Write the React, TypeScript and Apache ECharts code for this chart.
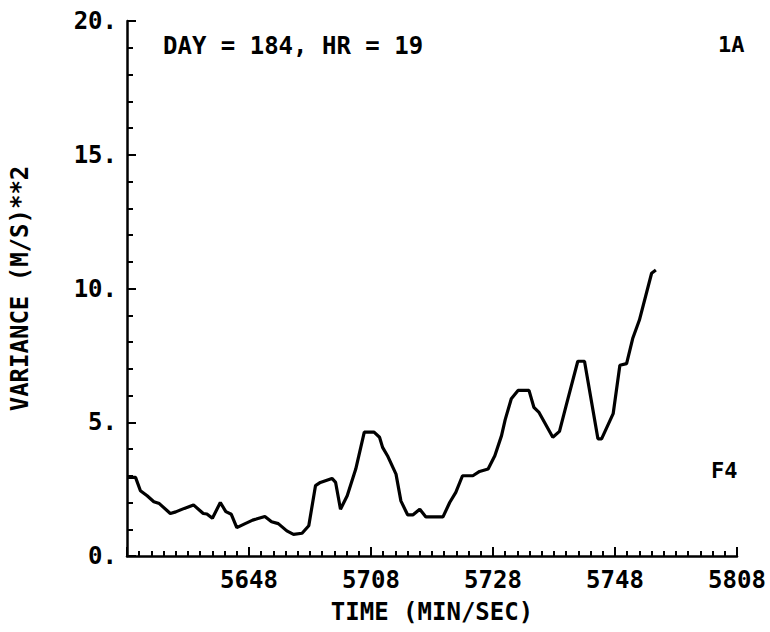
import React, { useEffect, useRef } from "react";
import * as echarts from "echarts";

// time in seconds after 56:28 (min/sec), variance in (m/s)^2
const times = [
  0, 1.4, 2.2, 3.3, 4.4, 5.3, 7.1, 8.0, 9.4, 10.9, 12.5, 13.1, 14.0, 15.3, 16.2, 17.1, 18.0, 19.2,
  20.6, 21.2, 22.6, 23.7, 24.8, 26.2, 27.3, 28.7, 29.8, 30.9, 31.7, 33.6, 34.2, 35.0, 36.1, 37.5,
  38.9, 40.5, 41.4, 41.9, 42.7, 44.1, 44.9, 46.0, 46.9, 48.0, 49.0, 51.8, 52.9, 53.9, 55.0, 56.7,
  57.8, 59.2, 60.3, 61.4, 62.0, 63.0, 64.1, 65.9, 66.7, 67.5, 69.8, 70.9, 72.0, 73.9, 75.0, 77.2,
  77.8, 79.7, 80.8, 81.9, 82.9, 84.0, 86.0, 86.7,
];
const variance = [
  2.94, 2.94, 2.44, 2.25, 2.03, 1.96, 1.59, 1.65, 1.78, 1.91, 1.59, 1.57, 1.41, 2.0, 1.66, 1.56, 1.06, 1.19,
  1.34, 1.38, 1.48, 1.28, 1.21, 0.94, 0.81, 0.85, 1.13, 2.63, 2.75, 2.9, 2.75, 1.75, 2.25, 3.25,
  4.63, 4.63, 4.44, 4.06, 3.75, 3.06, 2.06, 1.54, 1.54, 1.75, 1.46, 1.46, 2.0, 2.38, 3.0, 3.0,
  3.16, 3.25, 3.75, 4.5, 5.1, 5.88, 6.19, 6.19, 5.56, 5.38, 4.44, 4.66, 5.63, 7.28, 7.28, 4.38,
  4.38, 5.32, 7.13, 7.19, 8.13, 8.82, 10.57, 10.69,
];

const START_SECONDS = 56 * 60 + 28; // 56:28
const xMin = 0;
const xMax = 100;
const xInterval = 20;
const yMin = 0;
const yMax = 20;
const yInterval = 5;

const titleText = "DAY = 184, HR = 19";
const panelText = "1A";
const flightText = "F4";
const xName = "TIME (MIN/SEC)";
const yName = "VARIANCE (M/S)**2";

const FONT = "DejaVu Sans Mono";

function fmtTime(t: number): string {
  if (t === 0) return "";
  const s = START_SECONDS + t;
  const m = Math.floor(s / 60);
  const sec = Math.round(s - m * 60);
  return `${m}${sec < 10 ? "0" : ""}${sec}`;
}

export default function App() {
  const ref = useRef<HTMLDivElement>(null);
  useEffect(() => {
    if (!ref.current) return;
    const chart = echarts.init(ref.current, undefined, { renderer: "svg" });
    const data = times.map((t, i) => [t, variance[i]]);
    const axisLine = { show: true, lineStyle: { color: "#000", width: 2.5 } };
    const textStyle = { fontFamily: FONT, fontSize: 24, fontWeight: "bold" as const, color: "#000" };
    chart.setOption({
      animation: false,
      backgroundColor: "#fff",
      grid: { left: 127, right: 33, top: 21, bottom: 76, containLabel: false },
      xAxis: {
        type: "value",
        min: xMin,
        max: xMax,
        interval: xInterval,
        name: xName,
        nameLocation: "middle",
        nameGap: 44,
        nameTextStyle: textStyle,
        axisLine,
        axisTick: { show: true, inside: false, length: -9, lineStyle: { color: "#000", width: 2 } },
        minorTick: { show: true, splitNumber: 10, length: -5, lineStyle: { color: "#000", width: 2 } },
        splitLine: { show: false },
        axisLabel: {
          ...textStyle,
          formatter: (v: number) => fmtTime(v),
          margin: 12,
          showMinLabel: true,
          showMaxLabel: true,
        },
      },
      yAxis: {
        type: "value",
        min: yMin,
        max: yMax,
        interval: yInterval,
        name: yName,
        nameLocation: "middle",
        nameRotate: 90,
        nameGap: 95,
        nameTextStyle: textStyle,
        axisLine,
        axisTick: { show: true, inside: false, length: -9, lineStyle: { color: "#000", width: 2 } },
        minorTick: { show: true, splitNumber: 5, length: -6, lineStyle: { color: "#000", width: 2 } },
        splitLine: { show: false },
        axisLabel: {
          ...textStyle,
          formatter: (v: number) => `${v}.`,
          margin: 10,
        },
      },
      graphic: [
        {
          type: "text",
          left: 163,
          top: 34,
          style: { text: titleText, font: `bold 24px "${FONT}"`, fill: "#000" },
        },
        {
          type: "text",
          left: 718,
          top: 33,
          style: { text: panelText, font: `bold 22px "${FONT}"`, fill: "#000" },
        },
        {
          type: "text",
          left: 711,
          top: 459,
          style: { text: flightText, font: `bold 22px "${FONT}"`, fill: "#000" },
        },
      ],
      series: [
        {
          type: "line",
          data,
          showSymbol: false,
          symbol: "none",
          lineStyle: { color: "#000", width: 3.2 },
          clip: false,
        },
      ],
    });
    return () => chart.dispose();
  }, []);
  return (
    <div
      ref={ref}
      style={{ position: "fixed", left: 0, top: 0, width: 770, height: 632, background: "#fff" }}
    />
  );
}
